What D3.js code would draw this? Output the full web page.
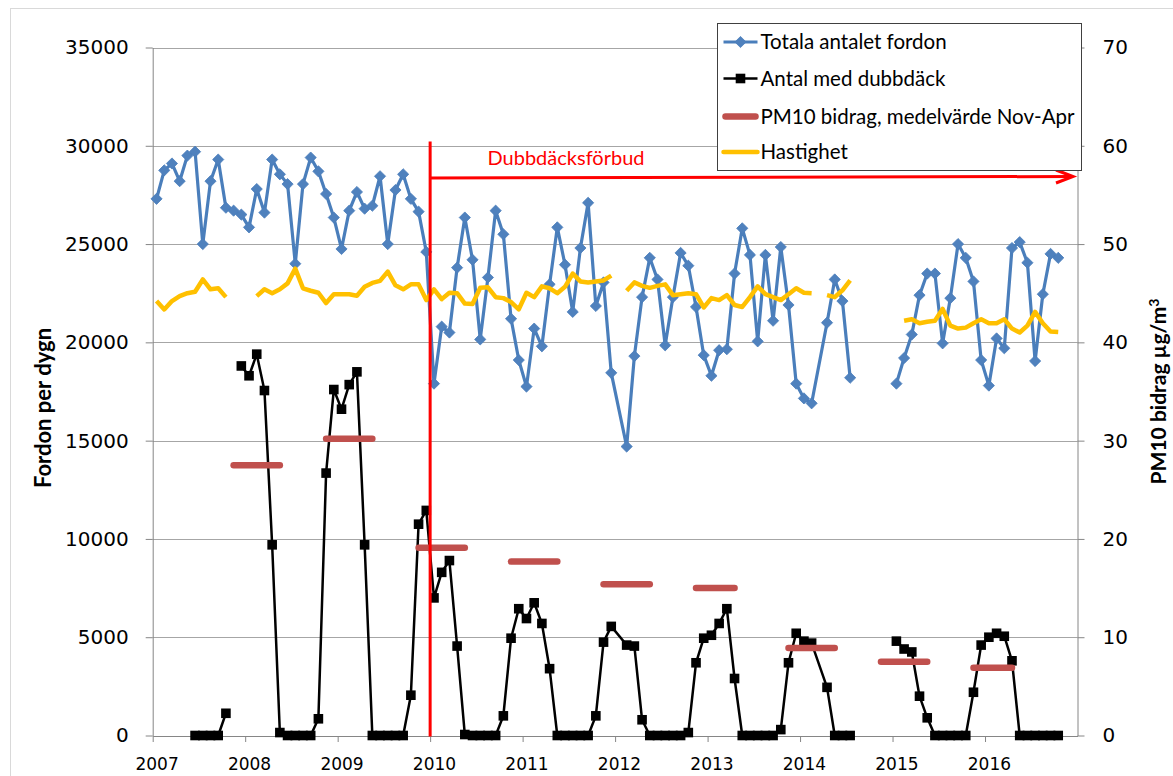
<!DOCTYPE html>
<html>
<head>
<meta charset="utf-8">
<script src="https://cdn.jsdelivr.net/npm/d3@7"></script>
<style>
  body { margin: 0; background: #fff; }
  svg { display: block; }
</style>
</head>
<body>
<svg id="chart" width="1173" height="776"></svg>
<script>
// ---- data -------------------------------------------------------------
// Monthly series, one entry per month starting January 2007.
// null  = no measurement (line is broken)
// NA    = value not available (line bridges over it)
const NA = "#N/A";
const firstYear = 2007;
const yearLabels = ["2007", "2008", "2009", "2010", "2011", "2012", "2013", "2014", "2015", "2016"];

// Totala antalet fordon (fordon per dygn)
const totalVehicles = [
  27300, 28750, 29100, 28200, 29500, 29700, 25000, 28200, 29300, 26850, 26700, 26500,   // 2007
  25850, 27800, 26600, 29300, 28550, 28050, 24000, 28050, 29400, 28700, 27550, 26350,   // 2008
  24750, 26700, 27650, 26800, 26950, 28450, 25000, 27750, 28550, 27300, 26650, 24600,   // 2009
  17900, 20800, 20500, 23800, 26350, 24200, 20150, 23300, 26700, 25500, 21200, 19100,   // 2010
  17750, 20700, 19800, 22950, 25850, 23950, 21550, 24800, 27100, 21850, 23050, 18450,   // 2011
  NA,    14700, 19300, 22300, 24300, 23200, 19850, 22300, 24550, 23900, 21800, 19350,   // 2012
  18300, 19600, 19650, 23500, 25800, 24450, 20050, 24450, 21100, 24850, 21900, 17900,   // 2013
  17150, 16900, NA,    21000, 23200, 22100, 18200, null,  null,  null,  null,  null,    // 2014
  17900, 19200, 20400, 22400, 23500, 23500, 19950, 22250, 25000, 24300, 23100, 19100,   // 2015
  17800, 20200, 19700, 24800, 25100, 24050, 19050, 22450, 24500, 24300                  // 2016
];

// Antal med dubbdäck (fordon per dygn)
const studdedTyres = [
  null,  null,  null,  null,  null,  0,     0,     0,     0,     1130,  null,  18800,   // 2007
  18300, 19400, 17550, 9700,  150,   0,     0,     0,     0,     850,   13350, 17600,   // 2008
  16600, 17850, 18500, 9700,  0,     0,     0,     0,     0,     2050,  10750, 11450,   // 2009
  7000,  8300,  8900,  4550,  50,    0,     0,     0,     0,     1000,  4950,  6450,    // 2010
  5950,  6750,  5700,  3400,  0,     0,     0,     0,     0,     1000,  4750,  5550,    // 2011
  NA,    4600,  4550,  800,   0,     0,     0,     0,     0,     150,   3700,  4950,    // 2012
  5100,  5700,  6450,  2900,  0,     0,     0,     0,     0,     300,   3700,  5200,    // 2013
  4800,  4700,  NA,    2450,  0,     0,     0,     null,  null,  null,  null,  null,    // 2014
  4800,  4400,  4250,  2000,  900,   0,     0,     0,     0,     0,     2200,  4600,    // 2015
  5000,  5200,  5050,  3800,  0,     0,     0,     0,     0,     0                      // 2016
];

// Hastighet (km/h, right axis)
const speed = [
  44.2, 43.35, 44.2, 44.7, 45.0, 45.15, 46.4, 45.4, 45.5, 44.6, null, null,             // 2007
  null, 44.7, 45.4, 45.0, 45.4, 46.0, 47.5, 45.5, 45.25, 45.05, 44.0, 44.9,             // 2008
  44.9, 44.9, 44.75, 45.65, 46.05, 46.25, 47.2, 45.8, 45.4, 45.9, 45.9, 44.3,           // 2009
  45.4, 44.4, 45.05, 45.0, 43.95, 43.9, 45.55, 45.6, 44.6, 44.5, 44.1, 43.35,           // 2010
  45.05, 44.6, 45.7, 45.5, 45.0, 45.65, 47.0, 46.2, 46.1, 46.2, 46.3, 46.8,             // 2011
  null, 45.25, 46.1, 45.75, 45.55, 45.75, 45.9, 44.8, 44.9, 45.0, 44.9, 43.55,          // 2012
  44.5, 44.3, 44.8, 43.8, 43.6, 44.6, 45.7, 44.9, 44.6, 44.3, 44.9, 45.5,               // 2013
  45.05, 45.0, null, 44.8, 44.6, 45.3, 46.3, null, null, null, null, null,              // 2014
  null, 42.2, 42.35, 41.95, 42.1, 42.2, 43.4, 41.7, 41.4, 41.5, 41.95, 42.35,           // 2015
  41.95, 41.95, 42.35, 41.4, 41.0, 41.7, 43.1, 41.95, 41.1, 41.05                       // 2016
];

// PM10 bidrag, medelvärde Nov-Apr (µg/m³, right axis)
const pmSeasons = ["2007/08", "2008/09", "2009/10", "2010/11", "2011/12", "2012/13", "2013/14", "2014/15", "2015/16"];
const pmFrom    = ["2007-11", "2008-11", "2009-11", "2010-11", "2011-11", "2012-11", "2013-11", "2014-11", "2015-11"];
const pmTo      = ["2008-05", "2009-05", "2010-05", "2011-05", "2012-05", "2013-04", "2014-05", "2015-05", "2016-04"];
const pmValues  = [27.5, 30.2, 19.1, 17.7, 15.4, 15.0, 8.9, 7.5, 6.9];

const leftTicks  = [0, 5000, 10000, 15000, 20000, 25000, 30000, 35000];
const rightTicks = [0, 10, 20, 30, 40, 50, 60, 70];

const banStart = "2010-01";
const banLabel = "Dubbdäcksförbud";

const legendLabels = ["Totala antalet fordon", "Antal med dubbdäck", "PM10 bidrag, medelvärde Nov-Apr", "Hastighet"];

// ---- styling ----------------------------------------------------------
const C = {
  blue: "#4A7EBB", blueFill: "#4F81BD", black: "#000000",
  pm: "#C0504D", yellow: "#FFC000", red: "#FF0000",
  grid: "#A6A6A6", axis: "#868686", border: "#D9D9D9"
};
const tickFont = "'DejaVu Sans', Verdana, sans-serif";
const textFont = "Lato, 'Open Sans', sans-serif";
const DIAMOND = "M0,-5.6L5.6,0L0,5.6L-5.6,0Z";

// ---- scales -----------------------------------------------------------
const plot = { left: 152.7, right: 1077.5, top: 47.5, bottom: 735.5 };
const monthIndex = s => (+s.slice(0, 4) - firstYear) * 12 + (+s.slice(5, 7) - 1);
const x = d3.scaleLinear().domain([0, 120]).range([plot.left, plot.right]);
const xm = i => x(i + 0.5);               // point sits in the middle of its month
const yL = d3.scaleLinear().domain([0, 35000]).range([plot.bottom, plot.top]);
const yR = d3.scaleLinear().domain([0, 70]).range([plot.bottom, plot.top]);

const svg = d3.select("#chart");

// chart frame
svg.append("rect").attr("x", 10.5).attr("y", 8.5).attr("width", 1200).attr("height", 800)
  .attr("fill", "#fff").attr("stroke", C.border).attr("stroke-width", 1);

// horizontal gridlines
svg.append("g").selectAll("line").data(leftTicks.filter(t => t > 0)).join("line")
  .attr("x1", plot.left).attr("x2", plot.right)
  .attr("y1", d => Math.round(yL(d)) + 0.5).attr("y2", d => Math.round(yL(d)) + 0.5)
  .attr("stroke", C.grid).attr("stroke-width", 1);

// axes
function styleAxis(g) {
  g.select(".domain").attr("stroke", C.axis);
  g.selectAll(".tick line").attr("stroke", C.axis);
  g.selectAll("text").attr("fill", "#000").style("font-family", tickFont);
}
const leftAxis = svg.append("g").attr("transform", `translate(${plot.left},0)`)
  .call(d3.axisLeft(yL).tickValues(leftTicks).tickFormat(d3.format("d")).tickSize(7).tickSizeOuter(0).tickPadding(17))
  .call(styleAxis);
leftAxis.selectAll("text").style("font-size", "20px");

const rightAxis = svg.append("g").attr("transform", `translate(${plot.right},0)`)
  .call(d3.axisRight(yR).tickValues(rightTicks).tickFormat(d3.format("d")).tickSize(7).tickSizeOuter(0).tickPadding(18))
  .call(styleAxis);
rightAxis.selectAll("text").style("font-size", "20px");

const bottomAxis = svg.append("g").attr("transform", `translate(0,${plot.bottom + 0.5})`)
  .call(d3.axisBottom(x).tickValues(yearLabels.map((_, k) => k * 12))
    .tickFormat((_, k) => yearLabels[k]).tickSize(6).tickSizeOuter(0).tickPadding(16))
  .call(styleAxis);
bottomAxis.selectAll("text").style("font-size", "17px").attr("dx", x(0.5) - x(0));

// axis titles
svg.append("text")
  .attr("transform", `translate(51,408) rotate(-90)`)
  .attr("text-anchor", "middle")
  .style("font-family", textFont).style("font-weight", "bold").style("font-size", "22px")
  .text("Fordon per dygn");

const rTitle = svg.append("text")
  .attr("transform", `translate(1166,${(plot.top + plot.bottom) / 2}) rotate(-90)`)
  .attr("text-anchor", "middle")
  .style("font-family", textFont).style("font-weight", "bold").style("font-size", "21px");
rTitle.append("tspan").text("PM10 bidrag µg/m");
rTitle.append("tspan").attr("dy", -7).style("font-size", "14px").text("3");

// ---- series -----------------------------------------------------------
function points(values) {
  return values.map((v, i) => ({ i, v })).filter(d => d.v !== NA);
}
const isVal = d => d.v !== null && d.v !== NA;

// Totala antalet fordon
const totalPts = points(totalVehicles);
svg.append("path").datum(totalPts)
  .attr("fill", "none").attr("stroke", C.blue).attr("stroke-width", 3.2).attr("stroke-linejoin", "round")
  .attr("d", d3.line().defined(d => d.v !== null).x(d => xm(d.i)).y(d => yL(d.v)));
svg.append("g").selectAll("path").data(totalPts.filter(isVal)).join("path")
  .attr("transform", d => `translate(${xm(d.i)},${yL(d.v)})`)
  .attr("d", DIAMOND)
  .attr("fill", C.blueFill).attr("stroke", C.blue).attr("stroke-width", 0.8);

// Antal med dubbdäck
const studPts = points(studdedTyres);
svg.append("path").datum(studPts)
  .attr("fill", "none").attr("stroke", C.black).attr("stroke-width", 2.5).attr("stroke-linejoin", "round")
  .attr("d", d3.line().defined(d => d.v !== null).x(d => xm(d.i)).y(d => yL(d.v)));
svg.append("g").selectAll("rect").data(studPts.filter(isVal)).join("rect")
  .attr("x", d => xm(d.i) - 4.8).attr("y", d => yL(d.v) - 4.8)
  .attr("width", 9.6).attr("height", 9.6).attr("fill", C.black);

// PM10 seasonal means
svg.append("g").selectAll("line").data(pmValues).join("line")
  .attr("x1", (d, k) => xm(monthIndex(pmFrom[k])))
  .attr("x2", (d, k) => xm(monthIndex(pmTo[k])))
  .attr("y1", d => yR(d)).attr("y2", d => yR(d))
  .attr("stroke", C.pm).attr("stroke-width", 6.5).attr("stroke-linecap", "round");

// Hastighet
svg.append("path").datum(points(speed))
  .attr("fill", "none").attr("stroke", C.yellow).attr("stroke-width", 4.5).attr("stroke-linejoin", "round")
  .attr("d", d3.line().defined(d => d.v !== null).x(d => xm(d.i)).y(d => yR(d.v)));

// ---- studded tyre ban annotation ------------------------------------
const banX = x(monthIndex(banStart));
const arrowY = 178;
const arrowEnd = 1073;
svg.append("line").attr("x1", banX).attr("x2", banX).attr("y1", 141.5).attr("y2", plot.bottom + 1)
  .attr("stroke", C.red).attr("stroke-width", 3);
svg.append("line").attr("x1", banX).attr("x2", arrowEnd - 2).attr("y1", arrowY).attr("y2", arrowY - 1.5)
  .attr("stroke", C.red).attr("stroke-width", 3);
svg.append("path")
  .attr("d", `M${arrowEnd - 17},${arrowY - 8}L${arrowEnd},${arrowY - 1.5}L${arrowEnd - 17},${arrowY + 5}`)
  .attr("fill", "none").attr("stroke", C.red).attr("stroke-width", 3).attr("stroke-linejoin", "miter");
svg.append("text").attr("x", 566).attr("y", 165).attr("text-anchor", "middle")
  .style("font-family", textFont).style("font-size", "20px").attr("fill", C.red)
  .text(banLabel);

// ---- legend -----------------------------------------------------------
const lg = svg.append("g").attr("transform", "translate(717.5,23.5)");
lg.append("rect").attr("width", 364).attr("height", 147).attr("fill", "#fff").attr("stroke", "#404040").attr("stroke-width", 1);
const rowY = [18.5, 55, 93, 128.5];
legendLabels.forEach((label, k) => {
  const row = lg.append("g").attr("transform", `translate(0,${rowY[k]})`);
  if (k === 0) {
    row.append("line").attr("x1", 6).attr("x2", 40).attr("stroke", C.blue).attr("stroke-width", 3);
    row.append("path").attr("transform", "translate(23,0)").attr("d", DIAMOND)
      .attr("fill", C.blueFill).attr("stroke", C.blue).attr("stroke-width", 0.8);
  } else if (k === 1) {
    row.append("line").attr("x1", 6).attr("x2", 40).attr("stroke", C.black).attr("stroke-width", 2.5);
    row.append("rect").attr("x", 18.2).attr("y", -4.8).attr("width", 9.6).attr("height", 9.6).attr("fill", C.black);
  } else if (k === 2) {
    row.append("line").attr("x1", 8).attr("x2", 38).attr("stroke", C.pm).attr("stroke-width", 6.5).attr("stroke-linecap", "round");
  } else {
    row.append("line").attr("x1", 6).attr("x2", 40).attr("stroke", C.yellow).attr("stroke-width", 4.5).attr("stroke-linecap", "round");
  }
  row.append("text").attr("x", 43).attr("y", 0).attr("dy", "0.35em")
    .style("font-family", textFont).style("font-size", "20.5px").attr("fill", "#000").text(label);
});
</script>
</body>
</html>
